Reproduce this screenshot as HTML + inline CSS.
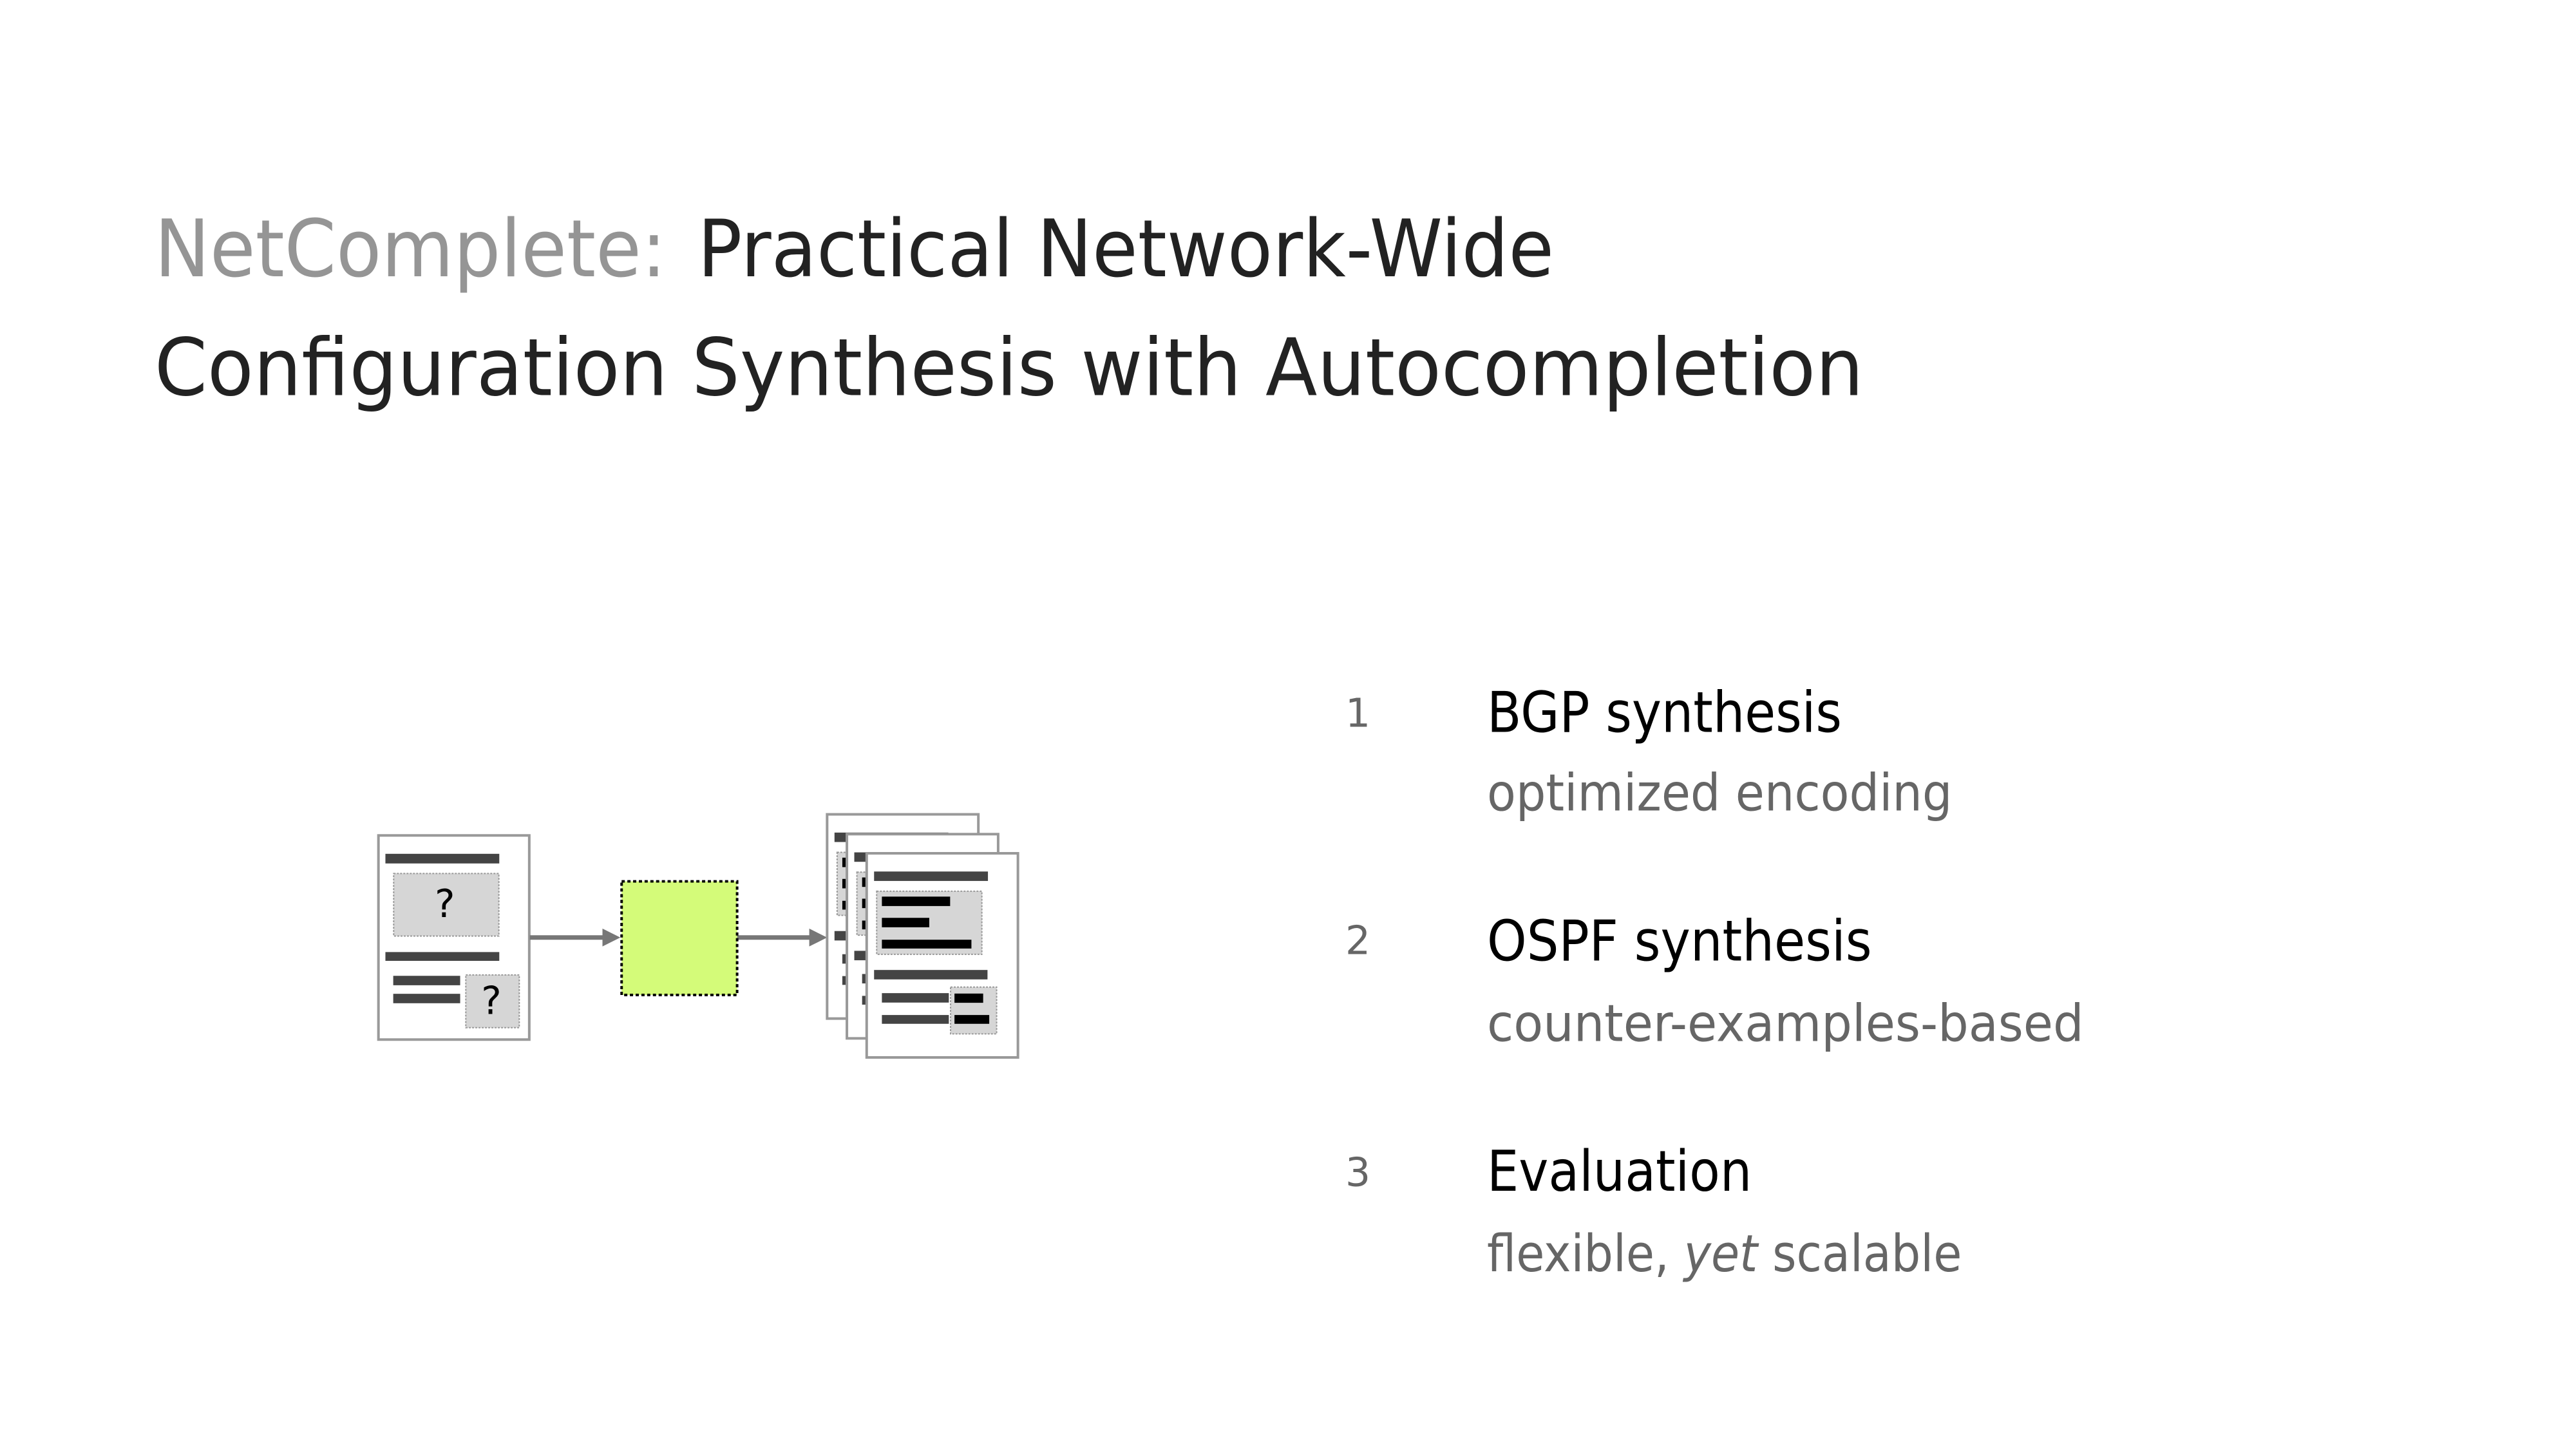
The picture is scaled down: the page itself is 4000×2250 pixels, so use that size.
<!DOCTYPE html>
<html><head><meta charset="utf-8"><style>html,body{margin:0;padding:0;background:#fff}svg{display:block}</style></head>
<body>
<svg width="4000" height="2250" viewBox="0 0 4000 2250" xmlns="http://www.w3.org/2000/svg" font-family="'DejaVu Sans','Liberation Sans',sans-serif">
<defs>
<g id="docOut">
  <rect x="0" y="0" width="348" height="952" fill="#fff" stroke="#999" stroke-width="4" vector-effect="non-scaling-stroke"/>
  <rect x="17" y="85" width="262" height="44" fill="#444"/>
  <rect x="23" y="177" width="242" height="294" fill="#d6d6d6" stroke="#999" stroke-width="2" stroke-dasharray="3 2" vector-effect="non-scaling-stroke"/>
  <rect x="35" y="202" width="157" height="44" fill="#000"/>
  <rect x="35" y="301" width="109" height="44" fill="#000"/>
  <rect x="35" y="403" width="206" height="41" fill="#000"/>
  <rect x="17" y="544" width="261" height="44" fill="#444"/>
  <rect x="35" y="652" width="154" height="44" fill="#444"/>
  <rect x="35" y="754" width="154" height="41" fill="#444"/>
  <rect x="193" y="624" width="106" height="218" fill="#d6d6d6" stroke="#999" stroke-width="2" stroke-dasharray="3 2" vector-effect="non-scaling-stroke"/>
  <rect x="202" y="654" width="66" height="43" fill="#000"/>
  <rect x="202" y="754" width="80" height="41" fill="#000"/>
</g>
</defs>
<g transform="scale(0.991)">
<!-- Title -->
<text x="242" y="433" font-size="124" fill="#959595" textLength="802" lengthAdjust="spacingAndGlyphs">NetComplete:</text>
<text x="1093" y="433" font-size="124" fill="#222" textLength="1342" lengthAdjust="spacingAndGlyphs">Practical Network-Wide</text>
<text x="242" y="619" font-size="124" fill="#222" textLength="2678" lengthAdjust="spacingAndGlyphs">Configuration Synthesis with Autocompletion</text>

<!-- Left doc -->
<g transform="translate(593,1309) scale(0.681,0.3354)">
  <rect x="0" y="0" width="347" height="954" fill="#fff" stroke="#999" stroke-width="4" vector-effect="non-scaling-stroke"/>
  <rect x="16" y="86" width="262" height="45" fill="#444"/>
  <rect x="35" y="178" width="242" height="292" fill="#d6d6d6" stroke="#999" stroke-width="2" stroke-dasharray="3 2" vector-effect="non-scaling-stroke"/>
  <rect x="16" y="545" width="262" height="41" fill="#444"/>
  <rect x="34" y="656" width="154" height="44" fill="#444"/>
  <rect x="34" y="740" width="154" height="44" fill="#444"/>
  <rect x="201" y="652" width="123" height="246" fill="#d6d6d6" stroke="#999" stroke-width="2" stroke-dasharray="3 2" vector-effect="non-scaling-stroke"/>
</g>
<text x="697" y="1437" font-size="60" fill="#000" text-anchor="middle">?</text>
<text x="770" y="1589" font-size="60" fill="#000" text-anchor="middle">?</text>

<!-- Arrows -->
<line x1="830" y1="1469" x2="946" y2="1469" stroke="#777" stroke-width="7"/>
<polygon points="972,1469 944,1455 944,1483" fill="#777"/>
<line x1="1155" y1="1469" x2="1270" y2="1469" stroke="#777" stroke-width="7"/>
<polygon points="1296,1469 1268,1455 1268,1483" fill="#777"/>

<!-- Green box -->
<rect x="974" y="1381" width="181" height="178" fill="#d4fb79" stroke="#000" stroke-width="4" stroke-dasharray="5 4"/>

<!-- Output docs -->
<g transform="translate(1296,1276) scale(0.681,0.3361)"><use href="#docOut"/></g>
<g transform="translate(1327,1307) scale(0.681,0.3361)"><use href="#docOut"/></g>
<g transform="translate(1358,1337) scale(0.681,0.3361)"><use href="#docOut"/></g>

<!-- List -->
<g font-size="62" fill="#666">
<text x="2108" y="1139">1</text>
<text x="2108" y="1495">2</text>
<text x="2108" y="1858">3</text>
</g>
<g font-size="88" fill="#000">
<text x="2330" y="1147" textLength="556" lengthAdjust="spacingAndGlyphs">BGP synthesis</text>
<text x="2330" y="1505" textLength="603" lengthAdjust="spacingAndGlyphs">OSPF synthesis</text>
<text x="2330" y="1866" textLength="415" lengthAdjust="spacingAndGlyphs">Evaluation</text>
</g>
<g font-size="80" fill="#666">
<text x="2330" y="1270" textLength="729" lengthAdjust="spacingAndGlyphs">optimized encoding</text>
<text x="2330" y="1631" textLength="935" lengthAdjust="spacingAndGlyphs">counter-examples-based</text>
<text x="2330" y="1992" textLength="744" lengthAdjust="spacingAndGlyphs">flexible, <tspan font-style="italic">yet</tspan> scalable</text>
</g>
</g>
</svg>
</body></html>
